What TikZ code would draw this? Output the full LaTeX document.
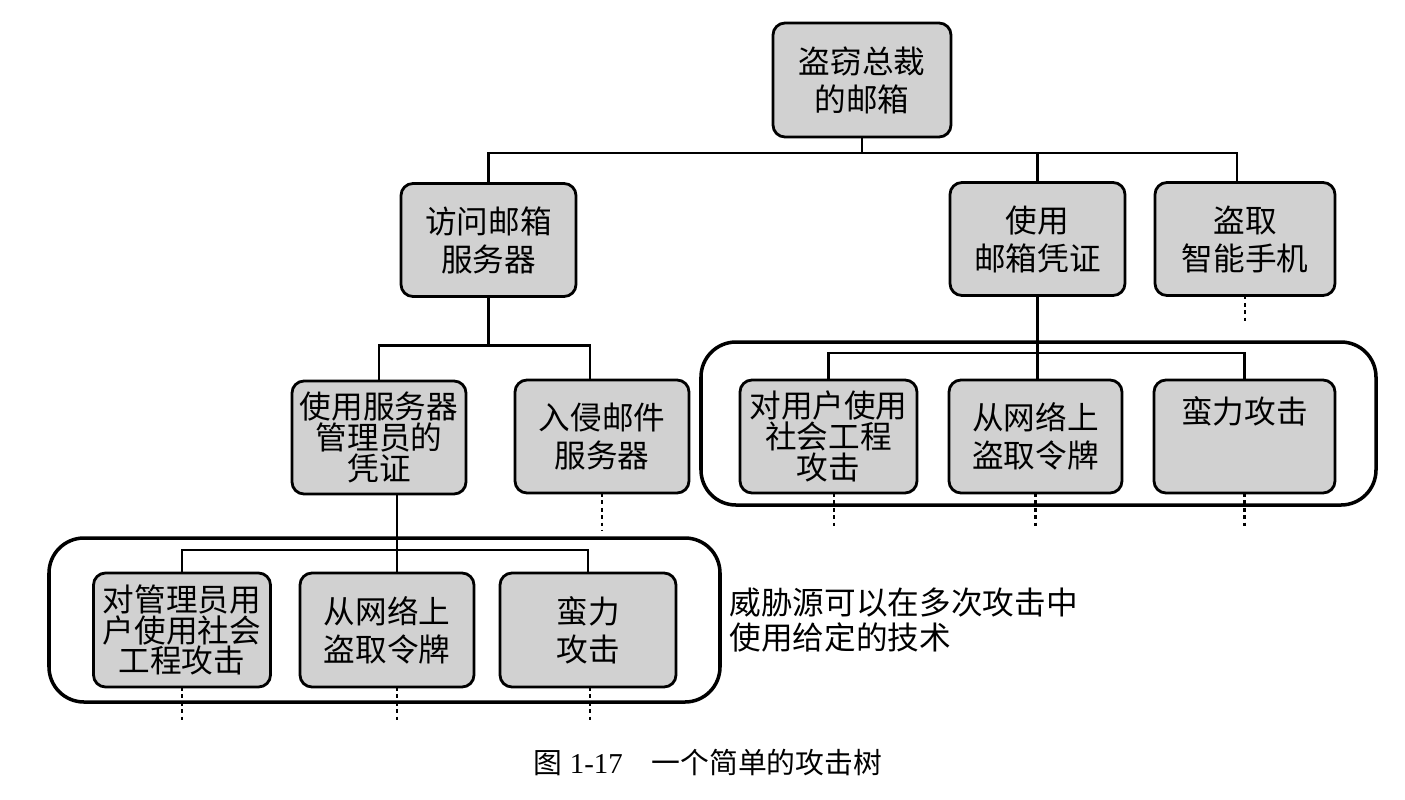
\documentclass[tikz,border=0pt]{standalone}
\usepackage{fontspec}
\setmainfont{Liberation Serif}
\newfontfamily\cjk{Noto Sans CJK SC}
\usetikzlibrary{positioning}
\lineskiplimit=-10pt
\tikzset{
    box filldraw/.style={% only the fill and draw styles
        fill=black!18, draw=black, line width=0.8pt},
    box rect/.style={% fill, draw + rounded rectangle (without measurements)
        box filldraw, rectangle, rounded corners=0.12cm, align=center,
        inner sep=0.03cm, outer sep=0pt, font=\cjk\fontsize{9}{10.8}\selectfont},
    box/.style={% fill, draw, rectangle + minimum measurements
        box rect, minimum width=#1, minimum height=1.13cm},
    box/.default=1.76cm,
    tight/.style={% three lines of text
        font=\cjk\fontsize{9}{8.8}\selectfont},
    group box/.style={% frame round a set of techniques
        draw=black, line width=1pt, rectangle, rounded corners=0.35cm, inner sep=0pt},
    tree/.style={draw=black, line width=0.6pt},
    more/.style={draw=black, line width=0.8pt, dash pattern=on 1.1pt off 1pt}}

\begin{document}
\begin{tikzpicture}
\useasboundingbox (0,0) rectangle (14.05,-7.99);
% frames
\node[group box, minimum width=6.71cm, minimum height=1.64cm] at (3.845,-6.20) (grpadmin) {};
\node[group box, minimum width=6.75cm, minimum height=1.63cm] at (10.385,-4.235) (grpuser) {};
% goal and sub goals
\node[box=1.78cm, minimum height=1.14cm] at (8.62,-0.80) (root) {盗窃总裁\\的邮箱};
\node[box=1.75cm] at (4.885,-2.40) (visit) {访问邮箱\\服务器};
\node[box=1.75cm] at (10.375,-2.39) (usecred) {使用\\邮箱凭证};
\node[box=1.80cm] at (12.45,-2.39) (phone) {盗取\\智能手机};
\node[box=1.74cm, tight] at (3.79,-4.375) (admin) {使用服务器\\管理员的\\凭证};
\node[box=1.74cm] at (6.02,-4.365) (intrude) {入侵邮件\\服务器};
% techniques
\node[box=1.77cm, minimum height=1.14cm, tight] at (1.82,-6.30) (soc1) {对管理员用\\户使用社会\\工程攻击};
\node[box=1.74cm, minimum height=1.14cm] at (3.87,-6.30) (tok1) {从网络上\\盗取令牌};
\node[box=1.76cm, minimum height=1.14cm] at (5.88,-6.30) (brute1) {蛮力\\攻击};
\node[box=1.77cm, tight] at (8.285,-4.365) (soc2) {对用户使用\\社会工程\\攻击};
\node[box=1.73cm] at (10.355,-4.365) (tok2) {从网络上\\盗取令牌};
\node[box=1.81cm, text depth=0.52cm] at (12.445,-4.365) (brute2) {蛮力攻击};
\node[anchor=west, align=left, inner sep=0pt, font=\cjk\fontsize{9}{10.2}\selectfont] at (7.29,-6.20) (note) {威胁源可以在多次攻击中\\使用给定的技术};
\node[font=\fontsize{8.2}{10}\selectfont] at (7.08,-7.63) (caption) {{\cjk 图}~1-17\quad{\cjk 一个简单的攻击树}};
% connectors
\draw[tree] (root.south) -- ++(0,-0.16) -| (visit.north);
\draw[tree] (root.south) -- ++(0,-0.16) -| (usecred.north);
\draw[tree] (root.south) -- ++(0,-0.16) -| ([xshift=-0.08cm]phone.north);
\draw[tree] (visit.south) -- ++(0,-0.49) -| (admin.north);
\draw[tree] (visit.south) -- ++(0,-0.49) -| ([xshift=-0.12cm]intrude.north);
\draw[tree] ([xshift=0.18cm]admin.south) -- ([xshift=0.18cm]admin.south |- tok1.north);
\draw[tree] (soc1.north) -- ++(0,0.23) -| (brute1.north);
\draw[tree] (usecred.south) -- (usecred.south |- tok2.north);
\draw[tree] (soc2.north) -- ++(0,0.27) -| (brute2.north);
% open ends
\draw[more] (phone.south) -- ++(0,-0.25);
\draw[more] (intrude.south) -- ++(0,-0.37);
\foreach \n/\dx in {soc1/0,tok1/0.1,brute1/0.02}
    \draw[more] ([xshift=\dx cm]\n.south) -- ++(0,-0.33);
\foreach \n/\dx in {soc2/0.055,tok2/0,brute2/0}
    \draw[more] ([xshift=\dx cm]\n.south) -- ++(0,-0.35);
\end{tikzpicture}
\end{document}
